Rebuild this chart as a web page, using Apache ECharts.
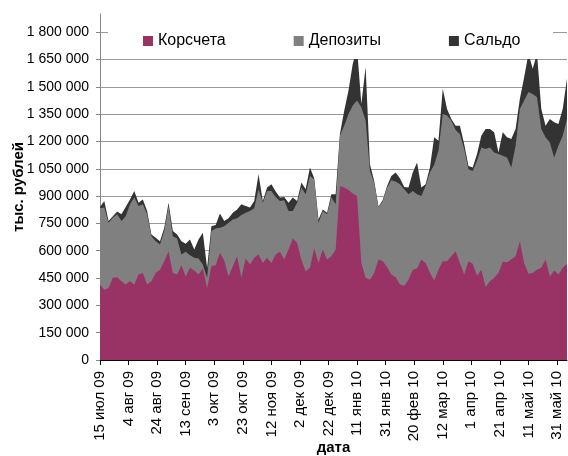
<!DOCTYPE html>
<html>
<head>
<meta charset="utf-8">
<script src="https://cdn.jsdelivr.net/npm/echarts@6/dist/echarts.min.js"></script>
<style>
  html, body { margin: 0; padding: 0; background: #fff; }
  #chart { width: 568px; height: 456px; }
</style>
</head>
<body>
<div id="chart"></div>
<script>
// values in тыс. рублей, every 3 days
const dates = [
  '2009-07-15','2009-07-18','2009-07-21','2009-07-24','2009-07-27','2009-07-30','2009-08-02','2009-08-05','2009-08-08','2009-08-11',
  '2009-08-14','2009-08-17','2009-08-20','2009-08-23','2009-08-26','2009-08-29','2009-09-01','2009-09-04','2009-09-07','2009-09-10',
  '2009-09-13','2009-09-16','2009-09-19','2009-09-22','2009-09-25','2009-09-28','2009-10-01','2009-10-04','2009-10-07','2009-10-10',
  '2009-10-13','2009-10-16','2009-10-19','2009-10-22','2009-10-25','2009-10-28','2009-10-31','2009-11-03','2009-11-06','2009-11-09',
  '2009-11-12','2009-11-15','2009-11-18','2009-11-21','2009-11-24','2009-11-27','2009-11-30','2009-12-03','2009-12-06','2009-12-09',
  '2009-12-12','2009-12-15','2009-12-18','2009-12-21','2009-12-24','2009-12-27','2009-12-30','2010-01-02','2010-01-05','2010-01-08',
  '2010-01-11','2010-01-14','2010-01-17','2010-01-20','2010-01-23','2010-01-26','2010-01-29','2010-02-01','2010-02-04','2010-02-07',
  '2010-02-10','2010-02-13','2010-02-16','2010-02-19','2010-02-22','2010-02-25','2010-02-28','2010-03-03','2010-03-06','2010-03-09',
  '2010-03-12','2010-03-15','2010-03-18','2010-03-21','2010-03-24','2010-03-27','2010-03-30','2010-04-02','2010-04-05','2010-04-08',
  '2010-04-11','2010-04-14','2010-04-17','2010-04-20','2010-04-23','2010-04-26','2010-04-29','2010-05-02','2010-05-05','2010-05-08',
  '2010-05-11','2010-05-14','2010-05-17','2010-05-20','2010-05-23','2010-05-26','2010-05-29','2010-06-01','2010-06-04','2010-06-07'
];

const korschet = [
  414000,386000,395000,451000,454000,432000,414000,432000,414000,469000,
  478000,414000,432000,478000,496000,542000,597000,478000,469000,520000,
  459000,506000,491000,469000,502000,395000,515000,520000,588000,546000,
  459000,515000,570000,451000,557000,524000,561000,579000,533000,561000,
  533000,579000,594000,552000,607000,667000,644000,552000,487000,506000,
  612000,533000,607000,552000,570000,607000,956000,947000,934000,914000,
  901000,533000,451000,441000,478000,552000,542000,511000,469000,454000,
  414000,408000,441000,496000,502000,552000,533000,481000,437000,496000,
  542000,542000,570000,597000,533000,469000,542000,528000,463000,496000,
  401000,432000,451000,478000,539000,537000,552000,570000,652000,533000,
  474000,478000,496000,506000,552000,459000,492000,469000,506000,529000
];

const deposits = [
  419000,451000,359000,330000,346000,331000,376000,423000,478000,376000,
  377000,386000,248000,174000,138000,166000,248000,202000,198000,59000,
  135000,69000,70000,88000,22000,56000,193000,202000,138000,189000,
  295000,257000,208000,345000,252000,294000,272000,359000,331000,367000,
  395000,316000,279000,325000,211000,151000,220000,395000,423000,505000,
  381000,221000,211000,248000,322000,248000,275000,340000,417000,483000,
  524000,855000,863000,597000,496000,285000,331000,436000,518000,526000,
  551000,530000,469000,432000,408000,349000,423000,549000,635000,653000,
  809000,800000,744000,666000,708000,689000,506000,510000,631000,671000,
  757000,735000,689000,653000,582000,575000,505000,606000,727000,892000,
  997000,983000,947000,762000,671000,736000,620000,707000,725000,795000
];

const saldo = [
  7000,36000,9000,9000,15000,37000,50000,27000,36000,19000,
  27000,18000,9000,19000,18000,18000,19000,28000,22000,73000,
  44000,87000,46000,105000,175000,55000,27000,19000,78000,28000,
  24000,37000,49000,59000,36000,19000,40000,82000,9000,19000,
  37000,30000,19000,18000,46000,74000,9000,28000,28000,46000,
  5000,18000,9000,9000,18000,55000,10000,82000,129000,230000,
  285000,18000,295000,37000,9000,5000,5000,9000,24000,50000,
  33000,12000,37000,102000,175000,46000,9000,27000,151000,55000,
  138000,37000,10000,24000,46000,28000,18000,19000,37000,64000,
  110000,101000,110000,9000,129000,111000,156000,92000,55000,128000,
  211000,138000,239000,111000,64000,129000,193000,120000,148000,220000
];

// one label every 20 days from the first date
const xTickLabels = [
  '15 июл 09','4 авг 09','24 авг 09','13 сен 09','3 окт 09','23 окт 09','12 ноя 09','2 дек 09',
  '22 дек 09','11 янв 10','31 янв 10','20 фев 10','12 мар 10','1 апр 10','21 апр 10','11 май 10','31 май 10'
];

const DAY = 86400000;
const t0 = Date.parse(dates[0]);
const dayOf = (d) => Math.round((Date.parse(d) - t0) / DAY);

// stacked tops (the stack option does not stack on a value x axis)
const topK = korschet;
const topD = korschet.map((v, i) => v + deposits[i]);
const topS = topD.map((v, i) => v + saldo[i]);
const pairs = (vals) => dates.map((d, i) => [dayOf(d), vals[i]]);

const fmtNum = (v) => String(v).replace(/\B(?=(\d{3})+(?!\d))/g, ' ');

const font = 'Liberation Sans, Arial, sans-serif';

const area = (name, vals, color, z) => ({
  name,
  type: 'line',
  data: pairs(vals),
  symbol: 'none',
  lineStyle: { width: 0 },
  areaStyle: { color, opacity: 1 },
  itemStyle: { color },
  z,
});

const chart = echarts.init(document.getElementById('chart'));

chart.setOption({
  animation: false,
  backgroundColor: '#fff',
  textStyle: { fontFamily: font },
  grid: { left: 100, right: 1, top: 14, bottom: 96, outerBoundsMode: 'none' },
  legend: {
    data: ['Корсчета', 'Депозиты', 'Сальдо'],
    left: 143,
    top: 33,
    padding: 0,
    itemWidth: 10,
    itemHeight: 10,
    itemGap: 68,
    icon: 'rect',
    z: 110,
    textStyle: { fontSize: 16, color: '#000', fontFamily: font },
  },
  graphic: [
    {
      type: 'rect',
      left: 108,
      top: 0,
      shape: { width: 445, height: 59 },
      style: { fill: '#fff' },
      z: 100,
    },
  ],
  xAxis: {
    type: 'value',
    min: 0,
    max: 327,
    interval: 20,
    name: 'дата',
    nameLocation: 'middle',
    nameGap: 80,
    nameMoveOverlap: false,
    nameTextStyle: { fontSize: 15, fontWeight: 'bold', color: '#000', fontFamily: font },
    axisLine: { lineStyle: { color: '#000', width: 1 } },
    axisTick: { length: 5, lineStyle: { color: '#000' } },
    splitLine: { show: false },
    axisLabel: {
      rotate: 90,
      margin: 11,
      fontSize: 15,
      color: '#000',
      showMaxLabel: false,
      formatter: (v) => (v % 20 === 0 ? xTickLabels[v / 20] || '' : ''),
    },
  },
  yAxis: {
    type: 'value',
    min: 0,
    max: 1900000,
    interval: 150000,
    name: 'тыс. рублей',
    nameLocation: 'middle',
    nameGap: 74,
    nameMoveOverlap: false,
    nameTextStyle: { fontSize: 15, fontWeight: 'bold', color: '#000', fontFamily: font },
    axisLine: { show: true, lineStyle: { color: '#868686', width: 1 } },
    axisTick: { show: true, length: 4, lineStyle: { color: '#868686' } },
    splitLine: { show: true, showMaxLine: false, lineStyle: { color: '#999', width: 1 } },
    axisLabel: {
      fontSize: 14,
      color: '#000',
      margin: 11,
      showMaxLabel: false,
      formatter: (v) => (v % 150000 === 0 ? fmtNum(v) : ''),
    },
  },
  series: [
    area('Корсчета', topK, '#993366', 4),
    area('Депозиты', topD, '#808080', 3),
    area('Сальдо', topS, '#333333', 2),
  ],
});
</script>
</body>
</html>
